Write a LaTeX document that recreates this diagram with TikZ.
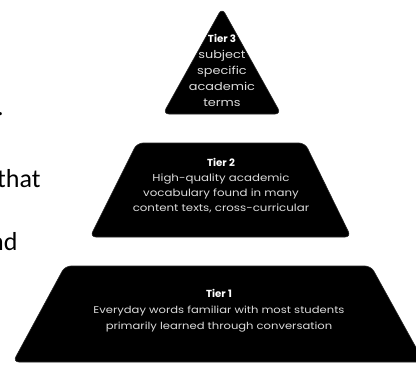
\documentclass[tikz,border=0pt]{standalone}
\usepackage{fontspec}
\setmainfont{Poppins}
\newfontfamily\tierfont[FakeStretch=1.18]{Poppins}
\newfontfamily\titlefont{Poppins}
\newfontfamily\sidefont{Carlito}
\newcommand\tiertitle[1]{{\titlefont\bfseries\color{white}\fontsize{10.2}{15}\selectfont #1}}
\begin{document}
\begin{tikzpicture}[x=1pt,y=-1pt,
  tier/.style={fill=black, draw=black!85, line width=0.6pt, rounded corners=6pt},
  lbl/.style={text=white!86!black, align=center, inner sep=0pt, anchor=north},
  side/.style={font=\sidefont\fontsize{26}{30}\selectfont, anchor=base west, inner sep=0pt, text=black}]
\useasboundingbox (0,0) rectangle (416,365);
\fill[white] (0,0) rectangle (416,365);
% left text fragments (cut off by the picture's edge, as in the reference)
\node[side] (s1) at (-3,115) {.};
\node[side] (s2) at (-3,187) {that};
\node[side] (s3) at (-10,250) {nd};
% tiers
\filldraw[tier] (222,8) -- (281,114) -- (163,114) -- cycle;
\filldraw[tier] (137,143) -- (305,143) -- (351,237) -- (90,237) -- cycle;
\filldraw[tier] (65,266) -- (371,266) -- (424,362) -- (13,362) -- cycle;
% labels
\node[lbl, font=\tierfont\fontsize{10.9}{16}\selectfont] (t3) at (222,34)
  {\tiertitle{Tier 3}\\subject\\specific\\academic\\terms};
\node[lbl, font=\tierfont\fontsize{10}{15.2}\selectfont] (t2) at (221,158)
  {\tiertitle{Tier 2}\\High-quality academic\\vocabulary found in many\\content texts, cross-curricular};
\node[lbl, font=\tierfont\fontsize{9.8}{16}\selectfont] (t1) at (219,289)
  {\tiertitle{Tier 1}\\Everyday words familiar with most students\\primarily learned through conversation};
\end{tikzpicture}
\end{document}
